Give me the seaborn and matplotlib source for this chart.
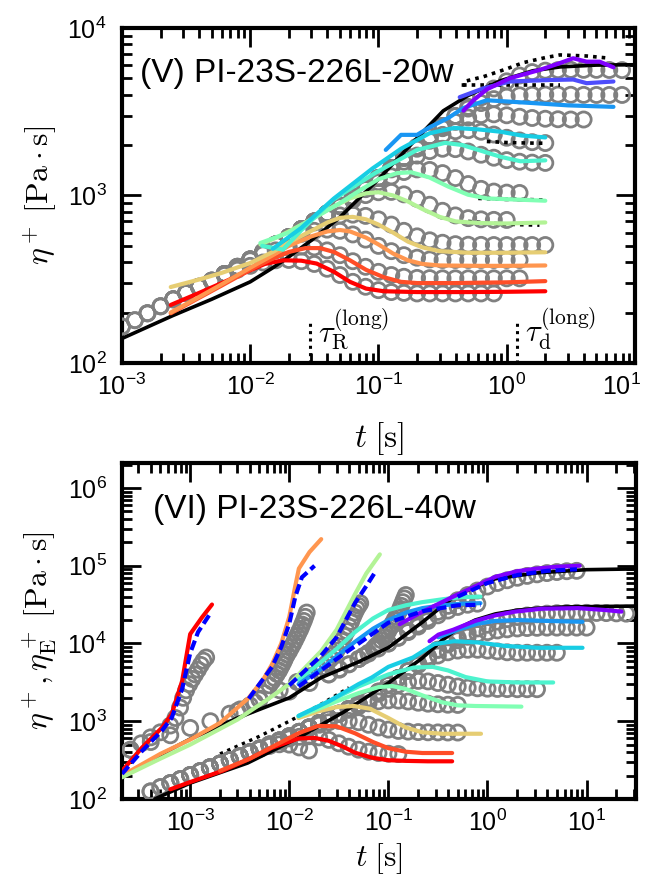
import numpy as np
import matplotlib
matplotlib.use("Agg")
import matplotlib.pyplot as plt
import seaborn as sns
from matplotlib.ticker import LogLocator, NullFormatter
from matplotlib.transforms import ScaledTranslation

# ------------------------------------------------------------------
# Panel (V) PI-23S-226L-20w : shear start-up, eta+(t)
# ------------------------------------------------------------------
# common time grid of the measured points
t_top = [0.001, 0.00126, 0.00158, 0.002, 0.00251, 0.00316, 0.00398, 0.00501, 0.00631, 0.00794,
         0.01, 0.0126, 0.0158, 0.02, 0.0251, 0.0316, 0.0398, 0.0501, 0.0631, 0.0794,
         0.1, 0.126, 0.158, 0.2, 0.251, 0.316, 0.398, 0.501, 0.631, 0.794,
         1.0, 1.26, 1.58, 2.0, 2.51, 3.16, 3.98, 5.01, 6.31, 7.94]

# gray symbols, one list per shear rate (first grid index + values)
top_g1_start = 0
top_g1 = [165, 180, 198, 218, 240, 262, 285, 310, 335, 360, 380, 398, 410, 412, 405, 390, 365, 335,
          305, 285, 272, 265, 262, 260, 260, 260, 260, 260, 260, 260]
top_g2_start = 0
top_g2 = [165, 180, 198, 218, 240, 262, 285, 310, 340, 375, 410, 445, 470, 488, 495, 490, 470, 440,
          405, 375, 350, 335, 327, 322, 321, 320, 320, 320, 320, 320, 320, 320]
top_g3_start = 2
top_g3 = [198, 218, 240, 262, 285, 310, 340, 375, 415, 460, 510, 555, 590, 615, 625, 615, 585, 545,
          500, 465, 440, 425, 415, 412, 412, 412, 412, 412, 412, 412]
top_g4_start = 4
top_g4 = [240, 262, 285, 310, 340, 375, 415, 460, 510, 565, 630, 690, 735, 760, 768, 755, 720, 670,
          615, 570, 540, 522, 512, 508, 507, 506, 506, 506, 506, 506]
top_g5_start = 6
top_g5 = [285, 310, 340, 375, 415, 460, 510, 565, 630, 700, 780, 860, 940, 1005, 1045, 1050, 1015,
          955, 880, 810, 760, 732, 720, 715, 714]
top_g6_start = 8
top_g6 = [340, 375, 415, 460, 510, 565, 630, 700, 780, 870, 980, 1090, 1200, 1300, 1380, 1430, 1420,
          1360, 1270, 1170, 1095, 1055, 1040, 1035]
top_g7_start = 10
top_g7 = [415, 460, 510, 565, 630, 700, 780, 870, 980, 1110, 1270, 1430, 1590, 1730, 1840, 1900,
          1890, 1830, 1750, 1680, 1625, 1590, 1570, 1564]
top_g8_start = 12
top_g8 = [510, 565, 630, 700, 780, 870, 980, 1110, 1270, 1460, 1680, 1900, 2120, 2300, 2420, 2450,
          2400, 2310, 2210, 2130, 2080, 2055]
top_g9_start = 14
top_g9 = [630, 700, 780, 870, 980, 1110, 1270, 1460, 1680, 1950, 2250, 2520, 2750, 2920, 3020, 3050,
          3010, 2950, 2900, 2870, 2850, 2840, 2840]
top_g10_start = 16
top_g10 = [780, 870, 980, 1110, 1270, 1460, 1680, 1950, 2250, 2600, 2980, 3300, 3560, 3760, 3890,
           3960, 3990, 4000, 4000, 3990, 3985, 3980, 3980, 3980]
top_g11_start = 18
top_g11 = [980, 1110, 1270, 1460, 1680, 1950, 2250, 2600, 2980, 3380, 3850, 4350, 4800, 5200, 5450,
           5560, 5600, 5620, 5620, 5620, 5610, 5600]

# black solid: linear viscoelastic envelope
top_lve_t = [1e-3, 2.5e-3, 5e-3, 1e-2, 1.5e-2, 2e-2, 3e-2, 5e-2, 0.1, 0.2, 0.32, 0.5, 0.9, 1.6, 2.6, 5.0, 10.0]
top_lve = [140, 192, 240, 305, 370, 430, 540, 740, 1250, 2200, 3200, 3950, 4850, 5550, 5850, 6000, 6030]

# coloured model curves (rainbow, high rate = red)
top_red_t = [2.4e-3, 4e-3, 6e-3, 9e-3, 1.3e-2, 1.8e-2, 2.5e-2, 3.3e-2, 4.5e-2, 6e-2, 8e-2, 0.11, 0.2, 0.5, 1.0, 2.0]
top_red = [222, 262, 300, 345, 390, 410, 408, 392, 350, 305, 278, 268, 265, 265, 266, 268]
top_tomato_t = [2.4e-3, 4e-3, 6e-3, 1e-2, 1.5e-2, 2e-2, 2.7e-2, 3.5e-2, 4.5e-2, 6e-2, 8e-2, 0.11, 0.15, 0.2, 0.4, 1.0, 2.0]
top_tomato = [198, 245, 290, 360, 420, 460, 485, 485, 460, 410, 360, 325, 305, 300, 300, 303, 308]
top_orange_t = [2.4e-3, 4e-3, 6e-3, 1e-2, 1.5e-2, 2e-2, 3e-2, 4e-2, 5e-2, 6e-2, 8e-2, 0.1, 0.13, 0.17, 0.22, 0.3, 0.6, 1.0, 2.0]
top_orange = [200, 248, 295, 370, 440, 500, 570, 610, 622, 610, 560, 510, 450, 410, 390, 382, 380, 380, 382]
top_khaki_t = [2.4e-3, 4e-3, 6e-3, 1e-2, 1.5e-2, 2e-2, 3e-2, 4e-2, 5e-2, 6.3e-2, 8e-2, 0.1, 0.13, 0.17, 0.22, 0.3, 0.5, 1.0, 2.0]
top_khaki = [284, 315, 345, 395, 460, 525, 615, 690, 735, 745, 720, 670, 600, 530, 490, 465, 455, 455, 458]
top_lgreen_t = [0.012, 0.016, 0.02, 0.03, 0.045, 0.06, 0.08, 0.1, 0.13, 0.17, 0.22, 0.3, 0.4, 0.6, 1.0, 2.0]
top_lgreen = [510, 560, 610, 720, 860, 960, 1030, 1045, 1000, 920, 830, 745, 700, 685, 680, 690]
top_mint_t = [0.012, 0.02, 0.03, 0.05, 0.07, 0.1, 0.14, 0.18, 0.25, 0.35, 0.5, 0.7, 1.0, 2.0]
top_mint = [520, 600, 720, 900, 1060, 1250, 1360, 1375, 1280, 1130, 1010, 960, 950, 930]
top_aqua_t = [0.0124, 0.018, 0.025, 0.044, 0.094, 0.2, 0.33, 0.45, 0.6, 0.9, 1.28, 2.0]
top_aqua = [500, 475, 620, 940, 1360, 1870, 2060, 2000, 1870, 1700, 1600, 1620]
top_cyan_t = [0.015, 0.025, 0.045, 0.09, 0.15, 0.25, 0.39, 0.6, 0.9, 1.3, 2.0]
top_cyan = [480, 640, 960, 1450, 1900, 2350, 2530, 2480, 2400, 2280, 2220]
top_dodger_t = [0.114, 0.15, 0.2, 0.25, 0.35, 0.46, 0.7, 1.0, 1.6, 3.0, 6.8]
top_dodger = [1870, 2300, 2300, 2550, 2900, 3330, 3700, 3640, 3560, 3450, 3380]
top_bviolet_t = [0.43, 0.66, 1.06, 2.2, 3.3, 4.2, 6.8]
top_bviolet = [3860, 4360, 4790, 4890, 4920, 4680, 4790]
top_purple_t = [0.46, 0.55, 0.7, 1.06, 1.8, 2.5, 3.3, 4.2, 5.3, 6.8]
top_purple = [3210, 3700, 4300, 5010, 5610, 6100, 6590, 6290, 6290, 5820]

# black dotted model curves
top_dot1_t = [0.46, 0.46, 0.66, 1.0, 1.35, 2.0, 2.6, 4.2, 6.4]
top_dot1 = [4450, 4780, 5120, 5700, 6210, 6650, 6900, 6800, 6590]
top_dot2_t = [0.46, 0.8, 1.3, 2.0, 2.6]
top_dot2 = [4560, 4560, 4560, 4560, 4560]
top_dot3_t = [0.5, 0.8, 1.2, 1.8]
top_dot3 = [700, 680, 670, 665]
top_dot4_t = [0.6, 1.0, 1.5, 1.9]
top_dot4 = [960, 950, 945, 940]
top_dot5_t = [0.7, 1.0, 1.5, 2.0]
top_dot5 = [2100, 2070, 2055, 2050]

# relaxation time markers
tau_t = [0.029, 1.21]
tau_low, tau_high = 100, 175

# ------------------------------------------------------------------
# Panel (VI) PI-23S-226L-40w : shear and uniaxial elongation
# ------------------------------------------------------------------
t_bot = [2.0e-4, 2.51e-4, 3.16e-4, 3.98e-4, 5.01e-4, 6.31e-4, 7.94e-4,
         0.001, 0.00126, 0.00158, 0.002, 0.00251, 0.00316, 0.00398, 0.00501, 0.00631, 0.00794,
         0.01, 0.0126, 0.0158, 0.02, 0.0251, 0.0316, 0.0398, 0.0501, 0.0631, 0.0794,
         0.1, 0.126, 0.158, 0.2, 0.251, 0.316, 0.398, 0.501, 0.631, 0.794,
         1.0, 1.26, 1.58, 2.0, 2.51, 3.16, 3.98, 5.01, 6.31, 7.94,
         10.0, 12.6, 15.8, 20.0, 25.1]

# shear data (gray), first grid index + values
bot_s1_start = 3
bot_s1 = [125, 142, 160, 180, 203, 228, 255, 285, 318, 355, 398, 440, 480, 505, 500, 460, 420]
bot_s2_start = 3
bot_s2 = [125, 142, 160, 180, 203, 228, 255, 285, 318, 355, 398, 445, 500, 555, 600, 630, 640, 620,
          575, 520, 470, 430, 405, 390, 382, 378]
bot_s3_start = 5
bot_s3 = [160, 180, 203, 228, 255, 285, 318, 355, 398, 445, 500, 565, 640, 730, 820, 900, 970, 1010,
          1010, 970, 900, 830, 780, 750, 735, 725, 720, 718, 716, 715]
bot_s4_start = 7
bot_s4 = [203, 228, 255, 285, 318, 355, 398, 445, 500, 565, 640, 730, 830, 950, 1090, 1240, 1400,
          1560, 1700, 1800, 1850, 1840, 1790, 1730, 1680, 1650, 1630, 1620]
bot_s5_start = 9
bot_s5 = [255, 285, 318, 355, 398, 445, 500, 565, 640, 730, 830, 950, 1090, 1250, 1440, 1670, 1930,
          2250, 2600, 2950, 3200, 3300, 3250, 3100, 2950, 2800, 2700, 2650, 2620, 2600, 2590, 2580,
          2580, 2580]
bot_s6_start = 12
bot_s6 = [355, 398, 445, 500, 565, 640, 730, 830, 950, 1090, 1250, 1440, 1670, 1950, 2400, 2950,
          3600, 4450, 5300, 6200, 7000, 7700, 8100, 8300, 8300, 8100, 7900, 7700, 7600, 7600, 7600,
          7600, 7600]
bot_s7_start = 15
bot_s7 = [500, 565, 640, 730, 830, 950, 1090, 1250, 1440, 1670, 1950, 2400, 2950, 3600, 4450, 5500,
          6800, 8300, 9700, 11000, 12200, 13200, 14000, 14700, 15200, 15600, 15800, 15900, 16000,
          16000, 16000, 16000, 16000]
bot_s8_start = 18
bot_s8 = [730, 830, 950, 1090, 1250, 1440, 1670, 1950, 2400, 2950, 3600, 4450, 5500, 6800, 8300,
          10000, 11800, 13700, 15600, 17400, 19100, 20600, 21900, 22900, 23700, 24200, 24500, 24700,
          24800, 24800, 24700, 24600, 24400, 24200]

# elongation data (gray)
bot_e1_t = [2.5e-4, 3.2e-4, 4e-4, 5e-4, 6.3e-4, 7.1e-4, 7.9e-4, 8.5e-4, 9.1e-4, 9.8e-4, 1.05e-3,
            1.12e-3, 1.2e-3, 1.28e-3, 1.36e-3, 1.45e-3]
bot_e1 = [430, 520, 620, 720, 880, 1100, 1500, 2000, 2500, 3000, 3500, 4000, 4600, 5300, 6000, 6600]
bot_e2_t = [2.5e-4, 4e-4, 6.3e-4, 1e-3, 1.6e-3, 2.5e-3, 3.2e-3, 4e-3, 4.5e-3, 5e-3, 5.6e-3, 6.3e-3,
            6.7e-3, 7.1e-3, 7.5e-3, 7.9e-3, 8.2e-3, 8.5e-3, 8.8e-3, 9.1e-3, 9.5e-3, 1e-2, 1.05e-2,
            1.1e-2, 1.15e-2, 1.2e-2, 1.25e-2, 1.3e-2, 1.35e-2, 1.4e-2, 1.45e-2, 1.5e-2]
bot_e2 = [430, 540, 660, 820, 1000, 1250, 1420, 1600, 1750, 1950, 2300, 2900, 3250, 3600, 4050, 4500,
          4950, 5400, 5900, 6500, 7200, 8000, 9000, 10000, 11200, 12500, 14000, 15500, 17500, 19500,
          22000, 25000]
bot_e3_t = [3e-3, 5e-3, 8e-3, 1.2e-2, 1.6e-2, 2e-2, 2.2e-2, 2.4e-2, 2.6e-2, 2.8e-2, 3e-2, 3.2e-2,
            3.4e-2, 3.6e-2, 3.8e-2, 4e-2, 4.2e-2, 4.4e-2, 4.6e-2, 4.8e-2, 5e-2, 5.2e-2]
bot_e3 = [1350, 1900, 2500, 3200, 3800, 4500, 5000, 5600, 6300, 7200, 8100, 9200, 10800, 12500,
          14400, 16500, 19000, 22000, 25000, 28000, 30500, 33000]
bot_e4_t = [1e-2, 1.6e-2, 2.5e-2, 3.2e-2, 4e-2, 5e-2, 5.6e-2, 6.3e-2, 7.1e-2, 7.5e-2, 8e-2, 8.5e-2,
            9e-2, 9.5e-2, 0.1, 0.105, 0.11, 0.115, 0.12, 0.125, 0.13, 0.135, 0.14, 0.145, 0.15]
bot_e4 = [2400, 3100, 4000, 4700, 5400, 6300, 6900, 7600, 8600, 9300, 10000, 11000, 12000, 13200,
          14500, 16200, 18000, 20000, 22000, 24500, 27000, 30500, 34000, 38000, 42000]
bot_e5_t = [0.025, 0.032, 0.04, 0.05, 0.063, 0.079, 0.1, 0.126, 0.158, 0.2, 0.25, 0.316, 0.4, 0.5, 0.63, 0.79]
bot_e5 = [4000, 4600, 5400, 6300, 7400, 8600, 10000, 11800, 14000, 16500, 19500, 23000, 26500, 29500,
          31500, 32500]
bot_e6_t = [0.1, 0.126, 0.158, 0.2, 0.25, 0.316, 0.4, 0.5, 0.63, 0.79, 1.0, 1.26, 1.58, 2.0, 2.51,
            3.16, 3.98, 5.01, 6.31, 7.94]
bot_e6 = [10000, 12000, 14500, 17500, 21000, 25500, 30500, 36000, 42000, 48000, 54000, 60000, 65000,
          70000, 74000, 77500, 80500, 83000, 85000, 86000]

# black solid envelopes (3 eta0+ and eta0+)
bot_lve_up_t = [2.05e-4, 5e-4, 1e-3, 3e-3, 0.01, 0.021, 0.05, 0.1, 0.218, 0.46, 0.76, 1.2, 3.2, 10, 31]
bot_lve_up = [188, 370, 590, 1100, 2000, 3640, 5800, 8850, 18600, 40000, 54000, 68000, 81000, 89000, 91000]
bot_lve_lo_t = [4.4e-4, 1e-3, 3.8e-3, 0.012, 0.035, 0.1, 0.22, 0.35, 0.5, 0.75, 1.2, 2.0, 3.2, 6.0, 31]
bot_lve_lo = [100, 160, 290, 600, 1300, 3100, 6500, 11000, 15500, 20000, 24000, 26800, 28300, 29500, 30300]

# elongation model curves
up_red_t = [2.05e-4, 3.26e-4, 5.2e-4, 6.5e-4, 8.3e-4, 1e-3, 1.31e-3, 1.66e-3]
up_red = [229, 457, 828, 1230, 3300, 13200, 21500, 31700]
up_orange_t = [2.05e-4, 5e-4, 1e-3, 2e-3, 3.9e-3, 5.5e-3, 6.7e-3, 8.3e-3, 1e-2, 1.15e-2, 1.25e-2, 1.6e-2, 2.1e-2]
up_orange = [200, 380, 580, 950, 2000, 3500, 5400, 10000, 22000, 55000, 92000, 150000, 220000]
up_lgreen_t = [2.05e-4, 5e-4, 1e-3, 3e-3, 6e-3, 0.01, 0.021, 0.03, 0.046, 0.06, 0.082]
up_lgreen = [190, 330, 500, 1050, 1900, 3000, 8000, 15000, 43000, 80000, 140000]
up_aqua_t = [0.0124, 0.02, 0.03, 0.046, 0.07, 0.1, 0.15, 0.22, 0.35, 0.55, 0.85]
up_aqua = [3400, 5500, 8500, 14000, 21000, 27000, 31000, 34000, 37000, 39500, 40000]
up_dodger_t = [0.0124, 0.02, 0.03, 0.046, 0.07, 0.1, 0.15, 0.22, 0.35, 0.55, 0.85]
up_dodger = [3000, 4500, 6800, 10500, 15500, 20000, 25000, 28500, 31000, 32500, 33000]
up_purple_t = [0.13, 0.2, 0.3, 0.45, 0.7, 1.2, 2.0, 3.2, 5.0, 8.5]
up_purple = [17700, 24000, 31000, 40000, 52000, 72000, 85000, 92000, 97000, 100000]

# blue dashed curves
dash_red_t = [2.05e-4, 3.3e-4, 5.2e-4, 6.5e-4, 8.3e-4, 1e-3, 1.2e-3, 1.55e-3]
dash_red = [210, 420, 760, 1100, 2600, 7500, 14000, 23000]
dash_orange_t = [3.9e-3, 6.7e-3, 8.3e-3, 1e-2, 1.15e-2, 1.34e-2, 1.8e-2]
dash_orange = [1950, 5000, 9000, 18000, 40000, 71000, 100000]
dash_lgreen_t = [0.01, 0.021, 0.03, 0.046, 0.06, 0.075]
dash_lgreen = [2900, 7000, 12000, 33000, 55000, 86000]
dash_dodger_t = [0.0124, 0.03, 0.1, 0.22, 0.5, 0.85]
dash_dodger = [2800, 6300, 18500, 26000, 31000, 31500]
dash_purple_t = [0.5, 1.0, 2.0, 4.0, 8.0]
dash_purple = [40000, 60000, 76000, 86000, 90000]

# shear model curves
lo_red_t = [6.3e-4, 1e-3, 2.1e-3, 3.8e-3, 6.7e-3, 0.0124, 0.018, 0.025, 0.035, 0.046, 0.068, 0.1, 0.15, 0.25, 0.44]
lo_red = [133, 165, 229, 320, 457, 600, 610, 560, 470, 394, 340, 315, 309, 305, 305]
lo_tomato_t = [2e-3, 4e-3, 7e-3, 0.0124, 0.0195, 0.03, 0.046, 0.07, 0.1, 0.15, 0.22, 0.44]
lo_tomato = [230, 330, 480, 700, 870, 860, 700, 540, 450, 405, 390, 390]
lo_khaki_t = [0.0124, 0.02, 0.03, 0.045, 0.065, 0.1, 0.15, 0.22, 0.35, 0.86]
lo_khaki = [1100, 1350, 1520, 1570, 1450, 1100, 830, 720, 690, 690]
lo_mint_t = [0.0124, 0.02, 0.03, 0.05, 0.08, 0.11, 0.15, 0.22, 0.35, 0.5, 0.75, 2.2]
lo_mint = [1150, 1450, 1800, 2300, 2750, 2830, 2600, 2150, 1750, 1600, 1570, 1540]
lo_aqua_t = [0.0124, 0.025, 0.05, 0.1, 0.18, 0.28, 0.4, 0.6, 1.0, 2.0, 4.6]
lo_aqua = [1170, 1800, 2800, 4000, 4900, 5000, 4500, 3700, 3250, 3150, 3150]
lo_cyan_t = [0.0124, 0.025, 0.05, 0.068, 0.1, 0.177, 0.29, 0.46, 0.8, 1.5, 3.2, 9.1]
lo_cyan = [1170, 1800, 3000, 3650, 5000, 6600, 9800, 10700, 10300, 9300, 8800, 8800]
lo_dodger_t = [0.32, 0.5, 0.8, 1.2, 2.0, 4.0, 9.1]
lo_dodger = [12000, 15000, 18000, 19500, 20000, 19500, 19000]
lo_purple_t = [0.26, 0.32, 0.45, 0.75, 1.2, 1.9, 3.5, 8.3, 15, 22.5]
lo_purple = [10700, 13000, 15000, 19500, 23000, 25700, 28000, 28500, 27000, 25700]

bot_dot_t = [2e-3, 5e-3, 0.01, 0.02, 0.04]
bot_dot = [380, 640, 1000, 1600, 2700]


GRAY = "#808080"
rainbow = plt.get_cmap("rainbow")
DOTTED = (0, (1.0, 1.4))
DASHED = (0, (2.4, 1.1))


def gray_points(ax, t, eta):
    sns.scatterplot(x=t, y=eta, ax=ax, s=118, facecolors="none", edgecolor=GRAY,
                    linewidth=2.0, zorder=3, legend=False)


def curve(ax, t, eta, color, lw=3.0, ls="-", z=5):
    sns.lineplot(x=t, y=eta, ax=ax, color=color, lw=lw, linestyle=ls,
                 estimator=None, sort=False, zorder=z, legend=False)


def style_axes(ax):
    ax.set_xscale("log")
    ax.set_yscale("log")
    for sp in ax.spines.values():
        sp.set_linewidth(3)
        sp.set_color("black")
    ax.xaxis.set_major_locator(LogLocator(base=10, numticks=15))
    ax.yaxis.set_major_locator(LogLocator(base=10, numticks=15))
    ax.xaxis.set_minor_locator(LogLocator(base=10, subs=np.arange(2, 10), numticks=15))
    ax.yaxis.set_minor_locator(LogLocator(base=10, subs=np.arange(2, 10), numticks=15))
    ax.xaxis.set_minor_formatter(NullFormatter())
    ax.yaxis.set_minor_formatter(NullFormatter())
    ax.tick_params(which="both", direction="in", top=True, right=True, width=2,
                   labelsize=18, color="black", labelcolor="black")
    ax.tick_params(which="major", length=14)
    ax.tick_params(which="minor", length=7)
    ax.tick_params(axis="x", pad=8)
    ax.tick_params(axis="y", pad=11)


sns.set_style("ticks")
plt.rcParams["font.family"] = ["Liberation Sans", "DejaVu Sans"]
plt.rcParams["mathtext.fontset"] = "cm"
plt.rcParams["text.color"] = "black"
plt.rcParams["axes.labelcolor"] = "black"

fig = plt.figure(figsize=(6.45, 8.84), dpi=100)
ax1 = fig.add_axes([0.1891, 0.5894, 0.7953, 0.379])
ax2 = fig.add_axes([0.1891, 0.0962, 0.7969, 0.3801])

# ---------------- top panel ----------------
style_axes(ax1)
top_sets = [(top_g1_start, top_g1), (top_g2_start, top_g2), (top_g3_start, top_g3),
            (top_g4_start, top_g4), (top_g5_start, top_g5), (top_g6_start, top_g6),
            (top_g7_start, top_g7), (top_g8_start, top_g8), (top_g9_start, top_g9),
            (top_g10_start, top_g10), (top_g11_start, top_g11)]
for start, vals in top_sets:
    gray_points(ax1, t_top[start:start + len(vals)], vals)

curve(ax1, top_lve_t, top_lve, "black", lw=2.6, z=4)
for tt, yy in [(top_dot1_t, top_dot1), (top_dot2_t, top_dot2), (top_dot3_t, top_dot3),
               (top_dot4_t, top_dot4), (top_dot5_t, top_dot5)]:
    curve(ax1, tt, yy, "black", lw=2.6, ls=DOTTED, z=4)

top_lines = [(top_red_t, top_red, 1.0), (top_tomato_t, top_tomato, 0.9),
             (top_orange_t, top_orange, 0.8), (top_khaki_t, top_khaki, 0.7),
             (top_lgreen_t, top_lgreen, 0.6), (top_mint_t, top_mint, 0.5),
             (top_aqua_t, top_aqua, 0.4), (top_cyan_t, top_cyan, 0.3),
             (top_dodger_t, top_dodger, 0.2), (top_bviolet_t, top_bviolet, 0.1),
             (top_purple_t, top_purple, 0.0)]
for tt, yy, c in top_lines:
    curve(ax1, tt, yy, rainbow(c))

for tt in tau_t:
    curve(ax1, [tt, tt], [tau_low, tau_high], "black", lw=2.2, ls=DOTTED, z=4)
ax1.text(0.034, 133, r"$\tau_\mathrm{R}^{(\mathrm{long})}$", fontsize=22, va="baseline")
ax1.text(1.38, 133, r"$\tau_\mathrm{d}^{(\mathrm{long})}$", fontsize=22, va="baseline")

ax1.set_xlim(1e-3, 10)
ax1.set_ylim(100, 1e4)
ax1.text(0.035, 0.84, "(V) PI-23S-226L-20w", transform=ax1.transAxes, fontsize=24, va="baseline")
ax1.set_xlabel(r"$t\;[\mathrm{s}]$", fontsize=24, labelpad=14)
ax1.set_ylabel(r"$\eta^+\;[\mathrm{Pa\cdot s}]$", fontsize=23, labelpad=6)

# ---------------- bottom panel ----------------
style_axes(ax2)
bot_sets = [(bot_s1_start, bot_s1), (bot_s2_start, bot_s2), (bot_s3_start, bot_s3),
            (bot_s4_start, bot_s4), (bot_s5_start, bot_s5), (bot_s6_start, bot_s6),
            (bot_s7_start, bot_s7), (bot_s8_start, bot_s8)]
for start, vals in bot_sets:
    gray_points(ax2, t_bot[start:start + len(vals)], vals)
for tt, yy in [(bot_e1_t, bot_e1), (bot_e2_t, bot_e2), (bot_e3_t, bot_e3),
               (bot_e4_t, bot_e4), (bot_e5_t, bot_e5), (bot_e6_t, bot_e6)]:
    gray_points(ax2, tt, yy)

curve(ax2, bot_dot_t, bot_dot, "black", lw=2.4, ls=DOTTED, z=2)
curve(ax2, bot_lve_up_t, bot_lve_up, "black", lw=2.6, z=4)
curve(ax2, bot_lve_lo_t, bot_lve_lo, "black", lw=2.6, z=4)

bot_lines = [(lo_red_t, lo_red, 1.0), (lo_tomato_t, lo_tomato, 0.9),
             (lo_khaki_t, lo_khaki, 0.7), (lo_mint_t, lo_mint, 0.5),
             (lo_aqua_t, lo_aqua, 0.4), (lo_cyan_t, lo_cyan, 0.3),
             (lo_dodger_t, lo_dodger, 0.2), (lo_purple_t, lo_purple, 0.0),
             (up_red_t, up_red, 1.0), (up_orange_t, up_orange, 0.8),
             (up_lgreen_t, up_lgreen, 0.6), (up_aqua_t, up_aqua, 0.4),
             (up_dodger_t, up_dodger, 0.2), (up_purple_t, up_purple, 0.0)]
for tt, yy, c in bot_lines:
    curve(ax2, tt, yy, rainbow(c))
for tt, yy in [(dash_red_t, dash_red), (dash_orange_t, dash_orange), (dash_lgreen_t, dash_lgreen),
               (dash_dodger_t, dash_dodger), (dash_purple_t, dash_purple)]:
    curve(ax2, tt, yy, "#0000ff", lw=3.0, ls=DASHED, z=6)

ax2.set_xlim(2.05e-4, 31.5)
ax2.set_ylim(100, 2.1e6)
ax2.text(0.06, 0.836, "(VI) PI-23S-226L-40w", transform=ax2.transAxes, fontsize=24, va="baseline")
ax2.set_xlabel(r"$t\;[\mathrm{s}]$", fontsize=23, labelpad=3)
ax2.set_ylabel(r"$\eta^+,\eta_\mathrm{E}^+\;[\mathrm{Pa\cdot s}]$", fontsize=23, labelpad=6)

# the last top-panel tick label sits just inside the right edge, as in the original
fig.canvas.draw()
for tick in ax1.xaxis.get_major_ticks():
    if np.isclose(tick.get_loc(), 10.0):
        tick.label1.set_transform(tick.label1.get_transform()
                                  + ScaledTranslation(-0.13, 0, fig.dpi_scale_trans))

fig.savefig("out.png", dpi=100)
